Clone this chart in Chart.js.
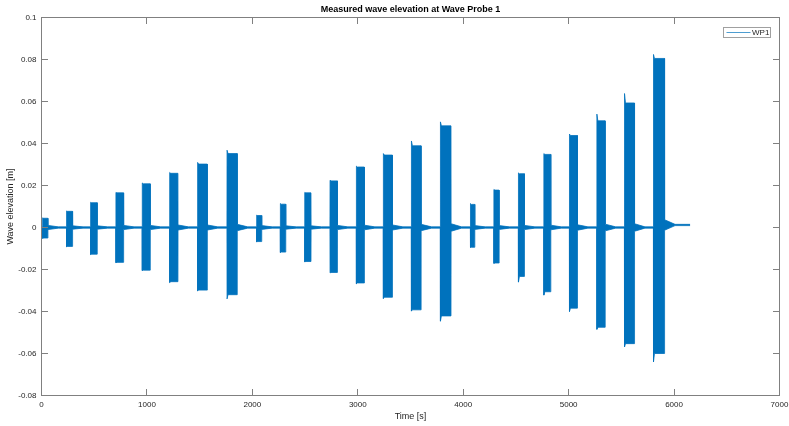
<!DOCTYPE html>
<html>
<head>
<meta charset="utf-8">
<title>Measured wave elevation at Wave Probe 1</title>
<script src="https://cdn.jsdelivr.net/npm/chart.js@4.4.1/dist/chart.umd.min.js"></script>
<style>
  html, body { margin: 0; padding: 0; background: #fff; }
  canvas { display: block; }
</style>
</head>
<body>
<canvas id="waveChart" width="789" height="426"></canvas>
<script>
// Test runs seen by WP1: start / end time of each run [s]
const burstStart = [10, 237, 465, 705, 955, 1215, 1480, 1759, 2040, 2265, 2496, 2736,
                    2986, 3242, 3508, 3783, 4068, 4290, 4523, 4764, 5007, 5267, 5529, 5804];
const burstEnd   = [60, 294, 528, 778, 1031, 1294, 1572, 1856, 2088, 2316, 2556, 2806,
                    3062, 3328, 3600, 3884, 4109, 4340, 4580, 4830, 5083, 5346, 5624, 5909];

// Envelope of each run [m]: first crest, steady crest, steady trough, first trough
const burstPeak   = [0.0046, 0.0079, 0.0120, 0.0167, 0.0212, 0.0262, 0.0310, 0.0368,
                     0.0059, 0.0114, 0.0167, 0.0225, 0.0292, 0.0352, 0.0412, 0.0503,
                     0.0114, 0.0181, 0.0260, 0.0352, 0.0445, 0.0540, 0.0638, 0.0824];
const burstTop    = [0.0044, 0.0077, 0.0118, 0.0165, 0.0208, 0.0258, 0.0302, 0.0352,
                     0.0057, 0.0111, 0.0165, 0.0222, 0.0288, 0.0345, 0.0389, 0.0484,
                     0.0110, 0.0178, 0.0256, 0.0348, 0.0438, 0.0508, 0.0593, 0.0805];
const burstBottom = [-0.0050, -0.0090, -0.0127, -0.0166, -0.0203, -0.0258, -0.0298, -0.0320,
                     -0.0067, -0.0117, -0.0162, -0.0214, -0.0264, -0.0332, -0.0392, -0.0421,
                     -0.0094, -0.0169, -0.0233, -0.0306, -0.0384, -0.0475, -0.0553, -0.0600];
const burstTrough = [-0.0052, -0.0092, -0.0129, -0.0168, -0.0205, -0.0262, -0.0302, -0.0340,
                     -0.0069, -0.0119, -0.0164, -0.0216, -0.0268, -0.0338, -0.0398, -0.0446,
                     -0.0095, -0.0171, -0.0260, -0.0322, -0.0400, -0.0485, -0.0569, -0.0640];

// Ripple left in the basin after each run: amplitude and mean level [m]
const tailAmp    = [0.0010, 0.0008, 0.0008, 0.0010, 0.0010, 0.0012, 0.0012, 0.0015,
                    0.0009, 0.0008, 0.0008, 0.0010, 0.0011, 0.0012, 0.0015, 0.0018,
                    0.0009, 0.0009, 0.0010, 0.0011, 0.0013, 0.0016, 0.0018, 0.0025];
const tailCenter = [0, 0, 0, 0, 0, 0, 0, 0, 0, 0, 0, 0,
                    0, 0, 0, 0, 0, 0, 0, 0, 0, 0, 0, 0.0012];

const xTicks = [0, 1000, 2000, 3000, 4000, 5000, 6000, 7000];
const yTicks = [-0.08, -0.06, -0.04, -0.02, 0, 0.02, 0.04, 0.06, 0.08, 0.1];

const BASE = 0.0003;       // noise band between runs
const TAIL_SPAN = 100;     // s until the after-run ripple has settled
const RECORD_END = 6152;   // s, last sample
const TICK = 6.5;          // inward tick length, px
const LINE = '#0072BD';
const TEXT = '#262626';
const FONT = "'Liberation Sans', Arial, Helvetica, sans-serif";

// upper (sign = 1) or lower (sign = -1) envelope of the record
function buildEnvelope(sign) {
  const pts = [{ x: 0, y: sign * BASE }];
  burstStart.forEach((t0, i) => {
    const t1 = burstEnd[i];
    const c = tailCenter[i];
    pts.push({ x: t0, y: sign * BASE });
    pts.push({ x: t0 + 1, y: sign > 0 ? burstPeak[i] : burstTrough[i] });
    pts.push({ x: t0 + 10, y: sign > 0 ? burstTop[i] : burstBottom[i] });
    pts.push({ x: t1, y: sign > 0 ? burstTop[i] : burstBottom[i] });
    pts.push({ x: t1 + 1, y: c + sign * tailAmp[i] });
    pts.push({ x: t1 + TAIL_SPAN, y: c + sign * BASE });
  });
  const last = tailCenter[tailCenter.length - 1];
  pts.push({ x: RECORD_END, y: last + sign * BASE });
  return pts;
}

// box, inward ticks on all four sides, and the MATLAB style legend
const axesFrame = {
  id: 'axesFrame',
  afterDatasetsDraw(chart) {
    const { ctx, chartArea: a, scales: { x, y } } = chart;
    ctx.save();
    ctx.strokeStyle = '#808080';
    ctx.lineWidth = 1;
    ctx.strokeRect(a.left, a.top, a.right - a.left, a.bottom - a.top);
    ctx.beginPath();
    x.ticks.forEach(t => {
      const px = Math.floor(x.getPixelForValue(t.value)) + 0.5;
      ctx.moveTo(px, a.bottom); ctx.lineTo(px, a.bottom - TICK);
      ctx.moveTo(px, a.top); ctx.lineTo(px, a.top + TICK);
    });
    y.ticks.forEach(t => {
      const py = Math.floor(y.getPixelForValue(t.value)) + 0.5;
      ctx.moveTo(a.left, py); ctx.lineTo(a.left + TICK, py);
      ctx.moveTo(a.right, py); ctx.lineTo(a.right - TICK, py);
    });
    ctx.stroke();

    const ds = chart.data.datasets[0];
    const lx = a.right - 56, ly = a.top + 10;
    ctx.fillStyle = '#fff';
    ctx.fillRect(lx, ly, 47, 10);
    ctx.strokeStyle = '#a0a0a0';
    ctx.strokeRect(lx, ly, 47, 10);
    ctx.strokeStyle = ds.borderColor;
    ctx.lineWidth = 0.7;
    ctx.beginPath();
    ctx.moveTo(lx + 3, ly + 5); ctx.lineTo(lx + 27, ly + 5);
    ctx.stroke();
    ctx.fillStyle = TEXT;
    ctx.font = '8px ' + FONT;
    ctx.textBaseline = 'middle';
    ctx.fillText(ds.label, lx + 28.5, ly + 5.5);
    ctx.restore();
  }
};

new Chart('waveChart', {
  type: 'line',
  data: {
    datasets: [
      {
        label: 'WP1',
        data: buildEnvelope(1),
        borderColor: LINE,
        backgroundColor: LINE,
        borderWidth: 0.8,
        pointRadius: 0,
        tension: 0,
        fill: '+1'
      },
      {
        label: 'WP1 lower',
        data: buildEnvelope(-1),
        borderColor: LINE,
        backgroundColor: LINE,
        borderWidth: 0.8,
        pointRadius: 0,
        tension: 0,
        fill: false
      }
    ]
  },
  options: {
    responsive: false,
    animation: false,
    events: [],
    layout: { padding: { left: 0, right: 9.5, top: 0, bottom: 0 } },
    plugins: {
      legend: { display: false },
      tooltip: { enabled: false },
      title: {
        display: true,
        fullSize: false,
        text: 'Measured wave elevation at Wave Probe 1',
        color: '#000',
        font: { family: FONT, size: 9, weight: 'bold', lineHeight: 1.2 },
        padding: { top: 4.2, bottom: 2.5 }
      }
    },
    scales: {
      x: {
        type: 'linear',
        min: 0,
        max: 7000,
        afterBuildTicks: s => { s.ticks = xTicks.map(v => ({ value: v })); },
        afterFit: s => { s.height = 30.5; s.paddingLeft = 0; s.paddingRight = 0; },
        grid: { display: false, drawTicks: false, tickLength: 0 },
        border: { display: false },
        ticks: {
          color: TEXT,
          padding: 4,
          maxRotation: 0,
          autoSkip: false,
          font: { family: FONT, size: 8 },
          callback: v => String(v)
        },
        title: {
          display: true,
          text: 'Time [s]',
          color: TEXT,
          font: { family: FONT, size: 9, lineHeight: 1.2 },
          padding: { top: 0, bottom: 3.6 }
        }
      },
      y: {
        type: 'linear',
        min: -0.08,
        max: 0.1,
        afterBuildTicks: s => { s.ticks = yTicks.map(v => ({ value: v })); },
        afterFit: s => { s.width = 41.5; },
        grid: { display: false, drawTicks: false, tickLength: 0 },
        border: { display: false },
        ticks: {
          color: TEXT,
          padding: 5,
          autoSkip: false,
          font: { family: FONT, size: 8 },
          callback: v => String(Math.round(v * 100) / 100)
        },
        title: {
          display: true,
          text: 'Wave elevation [m]',
          color: TEXT,
          font: { family: FONT, size: 9, lineHeight: 1.2 },
          padding: { top: 5, bottom: 0 }
        }
      }
    }
  },
  plugins: [axesFrame]
});
</script>
</body>
</html>
